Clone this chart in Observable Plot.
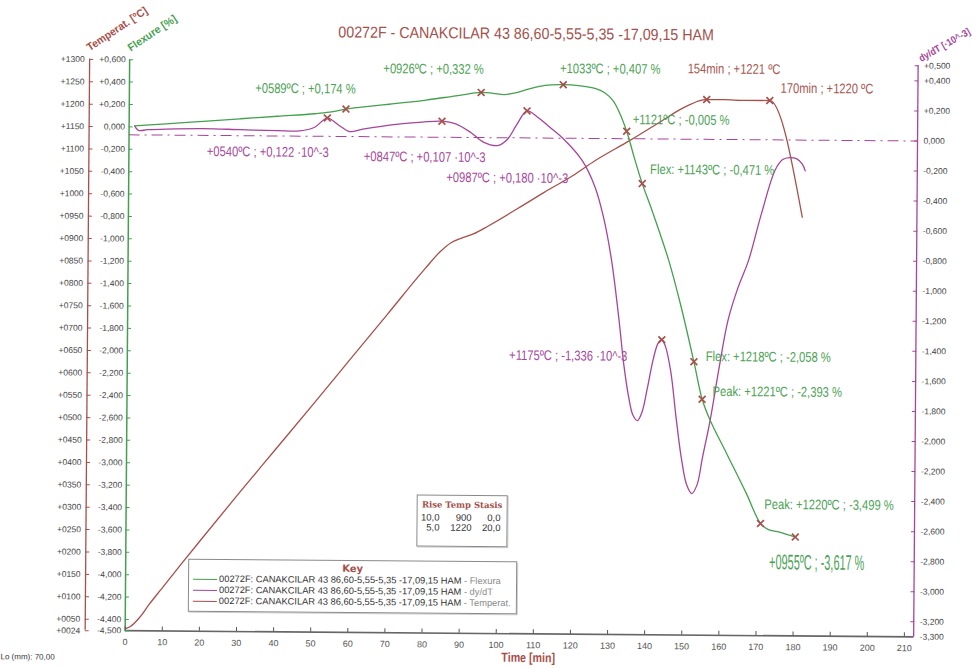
<!DOCTYPE html>
<html><head><meta charset="utf-8">
<script src="https://cdn.jsdelivr.net/npm/d3@7"></script>
<script src="https://cdn.jsdelivr.net/npm/@observablehq/plot@0.6"></script>
<style>
html,body{margin:0;padding:0;background:#fff;overflow:hidden;}
#wrap{position:relative;width:977px;height:669px;transform:rotate(0.45deg);transform-origin:488px 334px;}
#chart{position:absolute;left:0;top:0;}
#chart svg{overflow:visible;}
#rise{position:absolute;left:418px;top:495px;width:89px;height:50px;border:1px solid #8a8a8a;background:#fff;box-shadow:1px 1px 0 #d0d0d0;font-family:"Liberation Sans",Arial,sans-serif;color:#333;}
#rise .h{position:absolute;left:0;width:89px;top:4px;text-align:center;font-family:"DejaVu Serif",serif;font-weight:bold;font-size:8.5px;color:#a3514b;white-space:nowrap;}
#rise .c{position:absolute;font-size:9.5px;text-align:right;white-space:nowrap;}
#key{position:absolute;left:190px;top:561px;width:327px;height:51px;border:1px solid #8a8a8a;background:#fff;box-shadow:1px 1px 0 #d0d0d0;font-family:"Liberation Sans",Arial,sans-serif;}
#key .h{position:absolute;left:0;width:327px;top:3px;height:10px;line-height:10px;text-align:center;font-family:"DejaVu Sans",sans-serif;font-weight:bold;font-size:10px;color:#a3514b;}
#key .row{position:absolute;left:4px;height:10px;font-size:9.3px;color:#333;white-space:nowrap;line-height:10px;}
#key .sw{display:inline-block;width:24px;height:0;border-top:1.6px solid;vertical-align:middle;margin-right:2px;}
#key .suf{color:#8a8a8a;}
#cap{position:absolute;left:3px;top:656px;font-family:"Liberation Sans",Arial,sans-serif;font-size:8px;color:#333;}
</style></head>
<body><div id="wrap"><div id="chart"></div>
<div id="rise"><div class="h">Rise Temp Stasis</div></div>
<div id="key"><div class="h">Key</div></div>
<div id="cap">Lo (mm): 70,00</div>
</div>
<script>
// ---------- data ----------
const chartTitle = "00272F - CANAKCILAR 43 86,60-5,55-5,35 -17,09,15 HAM";
const seriesName = "00272F: CANAKCILAR 43 86,60-5,55-5,35 -17,09,15 HAM";
const seriesSuffix = ["Flexura", "dy/dT", "Temperat."];

const timeTicks = [0,10,20,30,40,50,60,70,80,90,100,110,120,130,140,150,160,170,180,190,200,210];
const flexTicks = [0.6,0.4,0.2,0,-0.2,-0.4,-0.6,-0.8,-1.0,-1.2,-1.4,-1.6,-1.8,-2.0,-2.2,-2.4,-2.6,-2.8,-3.0,-3.2,-3.4,-3.6,-3.8,-4.0,-4.2,-4.4,-4.5];
const tempTicks = [1300,1250,1200,1150,1100,1050,1000,950,900,850,800,750,700,650,600,550,500,450,400,350,300,250,200,150,100,50,24];
const dydtTicks = [0.5,0.4,0.2,0,-0.2,-0.4,-0.6,-0.8,-1.0,-1.2,-1.4,-1.6,-1.8,-2.0,-2.2,-2.4,-2.6,-2.8,-3.0,-3.2,-3.3];

// Flexure [%]
const flexTime  = [1.5,10,20,30,40,50,54,58.4,62,70,80,88,94.8,98,101,104,108,112,116.9,121,125.7,128,130.3,132,134.1,136.2,138.4,141.1,145.7,149,152.7,155,157.2,161.7,167.1,171,173,176.1,180.4];
const flexValue = [0.01,0.03,0.055,0.08,0.105,0.13,0.145,0.174,0.19,0.22,0.26,0.30,0.332,0.325,0.315,0.33,0.37,0.40,0.407,0.40,0.375,0.34,0.27,0.17,-0.005,-0.239,-0.471,-0.71,-1.155,-1.55,-2.058,-2.393,-2.58,-2.875,-3.23,-3.499,-3.55,-3.574,-3.617];

// dy/dT [·10^-3]
const dydtTime  = [1.5,2.5,5,10,20,30,40,46,50,53.4,56.5,59.4,63,68,73.8,79,84.3,88,92,95.5,99.4,102,104.5,107.2,110,113,116.9,122.2,125.7,128,130.3,132.4,133.8,135.2,136.4,137.6,138.8,140.2,141.7,143,144,145,146.5,148,149.5,151,152.4,153.8,155.2,157.2,159.5,161.8,164.5,167.2,170.5,174.2,176.2,178,180,181.5,182.3];
const dydtValue = [0.06,0.03,0.035,0.04,0.045,0.04,0.035,0.035,0.06,0.122,0.075,0.033,0.05,0.07,0.089,0.10,0.107,0.09,0.035,-0.03,-0.052,-0.01,0.09,0.18,0.14,0.08,0.0,-0.148,-0.324,-0.52,-0.81,-1.2,-1.5,-1.72,-1.84,-1.875,-1.82,-1.66,-1.47,-1.36,-1.336,-1.38,-1.55,-1.85,-2.12,-2.3,-2.358,-2.3,-2.12,-1.87,-1.52,-1.203,-0.98,-0.805,-0.5,-0.2,-0.13,-0.117,-0.125,-0.16,-0.205];

// Temperature [ºC]
const tempTime  = [0.3,1.5,3.8,6.5,9.6,15,20,30,40,50,60,70,80,84,87,90,93,97,105,112,119.5,125.7,134.9,143.8,148.4,151.5,153.5,155.6,160,166,172.6,181.6];
const tempValue = [30,35,54,85,118,175,227,330,431,532,634,736,838,876,897,908,917,935,975,1011,1048,1083,1128,1174,1198,1211,1218,1221,1221,1220,1220,960];

// markers
const flexMarkTime  = [58.4,94.8,116.9,134.1,138.4,152.7,155.0,171.0,180.4];
const flexMarkValue = [0.174,0.332,0.407,-0.005,-0.471,-2.058,-2.393,-3.499,-3.617];
const dydtMarkTime  = [53.4,84.3,107.2,144.0];
const dydtMarkValue = [0.122,0.107,0.180,-1.336];
const tempMarkTime  = [155.6,172.6];
const tempMarkValue = [1221,1220];

// annotations (time, flexure-axis value, text, series)
const annoTime  = [33.9,68.4,116.0,150.4,175.5,135.7,21.0,63.3,85.6,140.5,102.9,155.9,157.8,172.0,173.4];
const annoValue = [0.353,0.538,0.551,0.558,0.39,0.10,-0.215,-0.249,-0.43,-0.344,-2.014,-2.011,-2.322,-3.328,-3.846];
const annoText  = ["+0589ºC ; +0,174 %","+0926ºC ; +0,332 %","+1033ºC ; +0,407 %","154min ; +1221 ºC","170min ; +1220 ºC","+1121ºC ; -0,005 %","+0540ºC ; +0,122 ·10^-3","+0847ºC ; +0,107 ·10^-3","+0987ºC ; +0,180 ·10^-3","Flex: +1143ºC ; -0,471 %","+1175ºC ; -1,336 ·10^-3","Flex: +1218ºC ; -2,058 %","Peak: +1221ºC ; -2,393 %","Peak: +1220ºC ; -3,499 %","+0955ºC ; -3,617 %"];
const annoSeries = ["flex","flex","flex","temp","temp","flex","dydt","dydt","dydt","flex","dydt","flex","flex","flex","flex"];

const riseCols = [["10,0","5,0"],["900","1220"],["0,0","20,0"]];

// ---------- styling ----------
const green = "#45a04e", purple = "#a6449b", red = "#a84f49", titleRed = "#a3514b", markC = "#a6504a";
const labelColor = {flex: "#4aa253", dydt: "#a5479c", temp: "#a65550"};
const sans = "'Liberation Sans',Arial,sans-serif";

// secondary scales mapped on the flexure axis
const fT = T => 0.6 - (1300 - T) / 250;
const fD = d => 0.6 + (d - 0.5) * (5.1 / 3.8);
const fmt3 = v => Math.abs(v) < 1e-9 ? "0,000" : (v > 0 ? "+" : "-") + Math.abs(v).toFixed(3).replace(".", ",");
const fmtTemp = T => "+" + String(T).padStart(4, "0");

const flexData = flexTime.map((t, i) => ({t, v: flexValue[i]}));
const dydtData = dydtTime.map((t, i) => ({t, v: fD(dydtValue[i])}));
const tempData = tempTime.map((t, i) => ({t, v: fT(tempValue[i])}));
const marks = [
  ...flexMarkTime.map((t, i) => ({t, v: flexMarkValue[i]})),
  ...dydtMarkTime.map((t, i) => ({t, v: fD(dydtMarkValue[i])})),
  ...tempMarkTime.map((t, i) => ({t, v: fT(tempMarkValue[i])}))
];
const annos = annoText.map((text, i) => ({t: annoTime[i], v: annoValue[i], text, s: annoSeries[i]}));
const annoMain = annos.slice(0, -1);
const annoBig = annos.slice(-1);

const chart = Plot.plot({
  width: 977, height: 669,
  marginLeft: 127, marginRight: 61.5, marginTop: 62, marginBottom: 36,
  x: {domain: [0, 212.5]},
  y: {domain: [-4.5, 0.6]},
  style: {background: "transparent", fontFamily: sans, overflow: "visible"},
  marks: [
    Plot.ruleY([fD(0)], {stroke: purple, strokeWidth: 1, strokeDasharray: "11,5,2,5"}),
    Plot.ruleX([0], {dx: -40, stroke: red, strokeWidth: 1.3}),
    Plot.ruleX([0], {stroke: green, strokeWidth: 1.5}),
    Plot.ruleX([212.5], {stroke: purple, strokeWidth: 1.3}),
    Plot.ruleY([-4.5], {stroke: "#666", strokeWidth: 1.6}),
    Plot.axisX(timeTicks, {anchor: "bottom", tickSize: -4, tickPadding: 12, fontSize: 9, stroke: "#555", fill: "#555", label: null, tickFormat: d => String(d)}),
    Plot.axisY(flexTicks, {anchor: "left", tickSize: -4, tickPadding: 8, fontSize: 8.5, stroke: green, fill: "#444", label: null, tickFormat: fmt3}),
    Plot.axisY(tempTicks.map(fT), {anchor: "left", dx: -40, tickSize: -4, tickPadding: 9, fontSize: 8.5, stroke: red, fill: "#444", label: null,
      tickFormat: f => fmtTemp(Math.round(1300 + (f - 0.6) * 250))}),
    Plot.axisY(dydtTicks.map(fD), {anchor: "right", tickSize: -4, tickPadding: 10, fontSize: 8.5, stroke: purple, fill: "#444", label: null,
      tickFormat: f => fmt3(Math.round((0.5 + (f - 0.6) * 3.8 / 5.1) * 1000) / 1000)}),
    Plot.line(tempData, {x: "t", y: "v", stroke: red, strokeWidth: 1.3, curve: "monotone-x"}),
    Plot.line(dydtData, {x: "t", y: "v", stroke: purple, strokeWidth: 1.3, curve: "catmull-rom"}),
    Plot.line(flexData, {x: "t", y: "v", stroke: green, strokeWidth: 1.3, curve: "catmull-rom"}),
    Plot.dot(marks, {x: "t", y: "v", symbol: "times", r: 3.2, stroke: markC, strokeWidth: 1.7}),
    // text marks (order matters for the condensing below)
    Plot.text(annoMain, {x: "t", y: "v", text: "text", textAnchor: "start", fill: d => labelColor[d.s], fontSize: 14, fontFamily: sans}),
    Plot.text(annoBig, {x: "t", y: "v", text: "text", textAnchor: "start", fill: d => labelColor[d.s], fontSize: 21, fontFamily: sans}),
    Plot.text([chartTitle], {frameAnchor: "top", lineAnchor: "middle", dx: 2, dy: -29, text: d => d, fill: titleRed, fontSize: 16, fontFamily: sans}),
    Plot.text(["Temperat. [ºC]"], {frameAnchor: "top-left", lineAnchor: "bottom", dx: -40, dy: -8, rotate: -34, textAnchor: "start", text: d => d, fill: red, fontSize: 11, fontWeight: "bold"}),
    Plot.text(["Flexure [%]"], {frameAnchor: "top-left", lineAnchor: "bottom", dx: 1, dy: -8, rotate: -34, textAnchor: "start", text: d => d, fill: green, fontSize: 11, fontWeight: "bold"}),
    Plot.text(["dy/dT [·10^-3]"], {frameAnchor: "top-right", lineAnchor: "bottom", dx: 3, dy: -4, rotate: -30, textAnchor: "start", text: d => d, fill: purple, fontSize: 10, fontWeight: "bold"}),
    Plot.text(["Time [min]"], {frameAnchor: "bottom", lineAnchor: "middle", dx: 9, dy: 24, text: d => d, fill: red, fontSize: 13, fontWeight: "bold"})
  ]
});
document.getElementById("chart").appendChild(chart);

// condense the text marks horizontally (the reference uses a narrow face)
const condense = [0.8, 0.52, 0.89, 0.95, 0.95, 0.88, 0.82];
chart.querySelectorAll('g[aria-label="text"]').forEach((g, k) => {
  const s = condense[k] ?? 1;
  g.querySelectorAll("text").forEach(t => {
    const tr = t.getAttribute("transform") || "";
    t.setAttribute("transform", tr + ` scale(${s},1)`);
  });
});

// rise / temp / stasis table
const rise = document.getElementById("rise");
const colRight = [22, 54, 83];
riseCols.forEach((col, j) => col.forEach((txt, i) => {
  const el = document.createElement("div");
  el.className = "c";
  el.textContent = txt;
  el.style.right = (89 - colRight[j]) + "px";
  el.style.top = (16 + i * 10) + "px";
  rise.appendChild(el);
}));

// key
const key = document.getElementById("key");
[green, purple, red].forEach((c, i) => {
  const row = document.createElement("div");
  row.className = "row";
  row.style.top = (14 + i * 11) + "px";
  row.innerHTML = `<span class="sw" style="border-color:${c}"></span>${seriesName}<span class="suf"> - ${seriesSuffix[i]}</span>`;
  key.appendChild(row);
});
</script>
</body></html>
